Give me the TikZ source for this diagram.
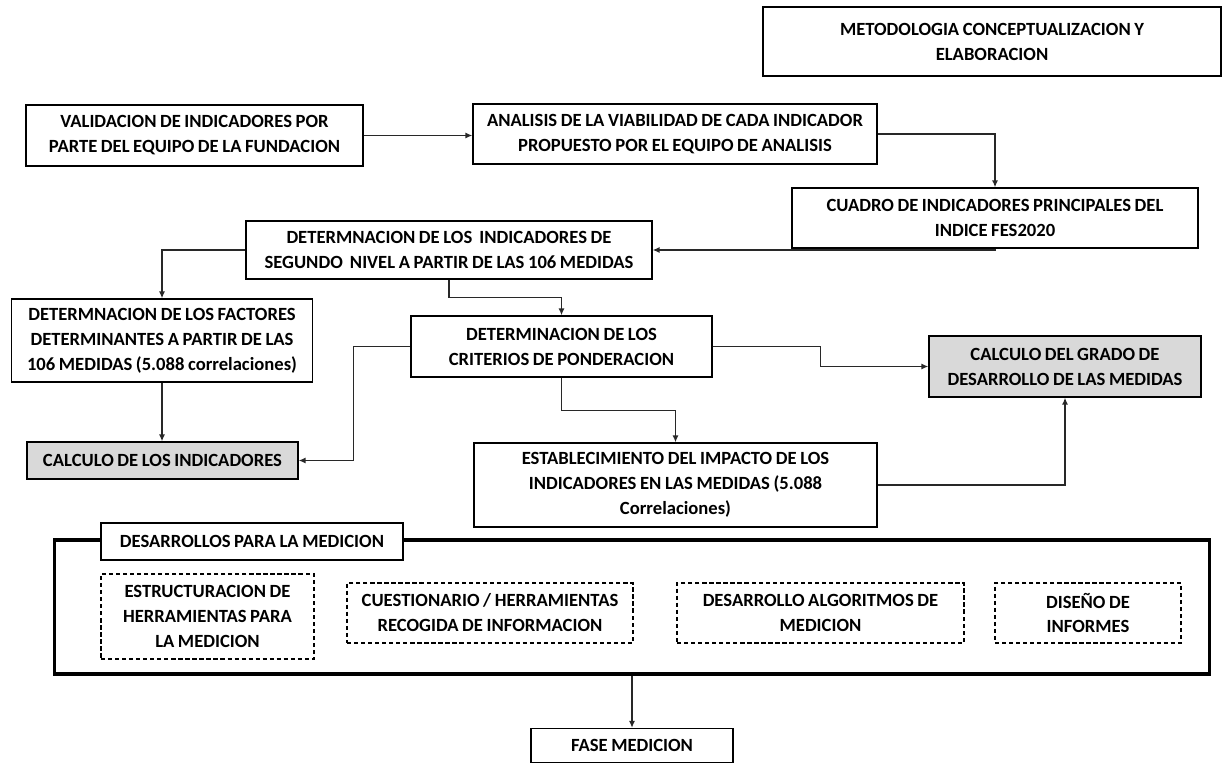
\documentclass[tikz,border=0pt]{standalone}
\usepackage{fontspec}
\setmainfont{Carlito}[WordSpace=0.85]
\usetikzlibrary{arrows.meta}
\definecolor{boxgray}{RGB}{217,217,217}
\definecolor{linegray}{RGB}{40,40,40}
\begin{document}
\begin{tikzpicture}[x=0.02cm,y=-0.02cm,
  box/.style={draw=black,line width=0.7pt,fill=white,inner sep=0pt,align=center,font=\fontsize{10.6}{14.2}\selectfont\bfseries},
  graybox/.style={box,fill=boxgray},
  dbox/.style={box,dash pattern=on 2.4pt off 1.6pt},
  bigbox/.style={draw=black,line width=1.8pt,inner sep=0pt},
  arr/.style={draw=linegray,line width=0.8pt,-{Latex[length=1.4mm,width=1.2mm]}}]
\useasboundingbox (0,0) rectangle (1223,763);
\fill[white] (0,0) rectangle (1223,763);

\node[box,minimum width=9.16cm,minimum height=1.38cm] (T) at (992,41.5) {METODOLOGIA CONCEPTUALIZACION Y\\ELABORACION};
\node[box,minimum width=6.74cm,minimum height=1.22cm] (V) at (194.5,135.5) {VALIDACION DE INDICADORES POR\\PARTE DEL EQUIPO DE LA FUNDACION};
\node[box,minimum width=8.08cm,minimum height=1.2cm] (A) at (675,134) {ANALISIS DE LA VIABILIDAD DE CADA INDICADOR\\PROPUESTO POR EL EQUIPO DE ANALISIS};
\node[box,minimum width=8.12cm,minimum height=1.2cm] (C) at (995,218) {CUADRO DE INDICADORES PRINCIPALES DEL\\INDICE FES2020};
\node[box,minimum width=8.12cm,minimum height=1.16cm] (D) at (449,250) {DETERMNACION DE LOS \ INDICADORES DE\\SEGUNDO \ NIVEL A PARTIR DE LAS 106 MEDIDAS};
\node[box,minimum width=6.02cm,minimum height=1.66cm] (F) at (162,340.5) {DETERMNACION DE LOS FACTORES\\DETERMINANTES A PARTIR DE LAS\\106 MEDIDAS (5.088 correlaciones)};
\node[graybox,minimum width=5.42cm,minimum height=0.74cm] (CI) at (162.5,460.5) {CALCULO DE LOS INDICADORES};
\node[box,minimum width=6.02cm,minimum height=1.22cm] (P) at (561.5,346.5) {DETERMINACION DE LOS\\CRITERIOS DE PONDERACION};
\node[graybox,minimum width=5.44cm,minimum height=1.22cm] (G) at (1065,366.5) {CALCULO DEL GRADO DE\\DESARROLLO DE LAS MEDIDAS};
\node[box,minimum width=8.06cm,minimum height=1.68cm] (E) at (675.5,485) {ESTABLECIMIENTO DEL IMPACTO DE LOS\\INDICADORES EN LAS MEDIDAS (5.088\\Correlaciones)};

\node[bigbox,minimum width=23.12cm,minimum height=2.68cm] (B) at (632,607) {};
\node[box,minimum width=6.04cm,minimum height=0.74cm] (L) at (252,541.5) {DESARROLLOS PARA LA MEDICION};
\node[dbox,minimum width=4.26cm,minimum height=1.7cm] (S1) at (207.5,616.5) {ESTRUCTURACION DE\\HERRAMIENTAS PARA\\LA MEDICION};
\node[dbox,minimum width=5.72cm,minimum height=1.2cm] (S2) at (490,613) {CUESTIONARIO / HERRAMIENTAS\\RECOGIDA DE INFORMACION};
\node[dbox,minimum width=5.74cm,minimum height=1.2cm] (S3) at (820.5,613) {DESARROLLO ALGORITMOS DE\\MEDICION};
\node[dbox,minimum width=3.72cm,minimum height=1.2cm] (S4) at (1088,613) {DISEÑO DE\\INFORMES};
\node[box,minimum width=4.04cm,minimum height=0.68cm] (FM) at (632,745.5) {FASE MEDICION};

\draw[arr] (V.east) -- (V.east -| A.west);
\draw[arr] (A.east) -| (C.north);
\draw[arr] (C.south) |- (D.east);
\draw[arr] (D.west) -| (F.north);
\draw[arr] (F.south) -- (F.south |- CI.north);
\draw[arr] (D.south) -- ++(0,18) -| (P.north);
\draw[arr] (P.west) -- ++(-57,0) |- (CI.east);
\draw[arr] (P.east) -- ++(108,0) |- (G.west);
\draw[arr] (P.south) -- ++(0,33) -| (E.north);
\draw[arr] (E.east) -| (G.south);
\draw[arr] (B.south) -- (FM.north);
\end{tikzpicture}
\end{document}
